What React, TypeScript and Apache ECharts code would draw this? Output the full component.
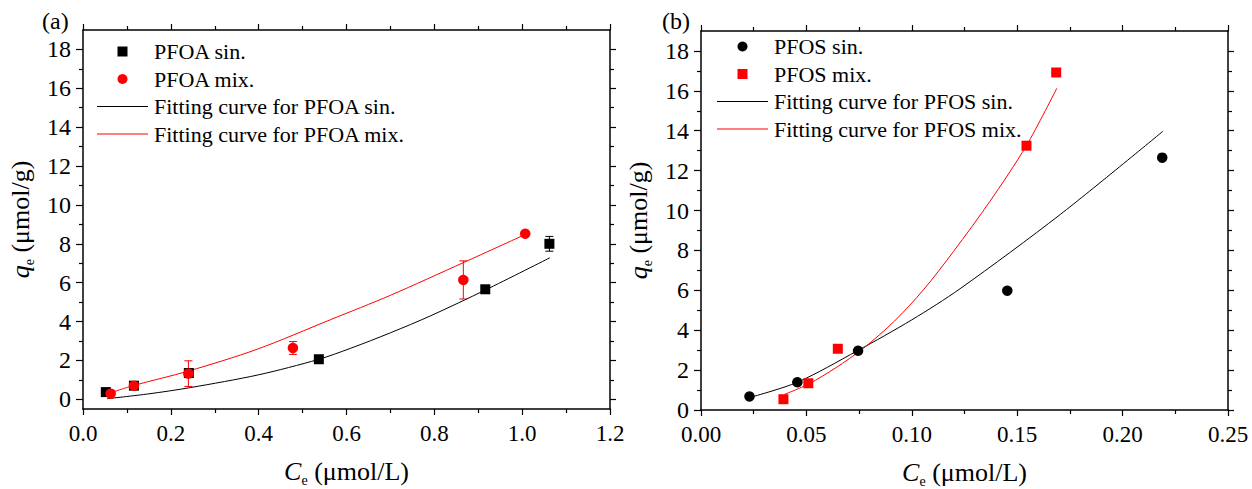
import React, { useEffect, useRef } from "react";
import * as echarts from "echarts";

// ---------- Panel (a): PFOA ----------
const pfoaSinX = [0.052, 0.116, 0.241, 0.537, 0.916, 1.062];
const pfoaSinY = [0.37, 0.7, 1.35, 2.06, 5.66, 8.0];
const pfoaSinErr = [0, 0, 0, 0, 0, 0.38];

const pfoaMixX = [0.063, 0.116, 0.24, 0.478, 0.866, 1.007];
const pfoaMixY = [0.29, 0.7, 1.32, 2.64, 6.14, 8.52];
const pfoaMixErr = [0, 0, 0.66, 0.33, 0.98, 0];

const pfoaSinFitX = [0.055, 0.15, 0.244, 0.4, 0.536, 0.609, 0.7, 0.792, 0.916, 1.063];
const pfoaSinFitY = [0.03, 0.28, 0.6, 1.26, 2.05, 2.62, 3.42, 4.3, 5.62, 7.28];

const pfoaMixFitX = [0.062, 0.117, 0.24, 0.396, 0.564, 0.7, 0.868, 1.009];
const pfoaMixFitY = [0.33, 0.72, 1.45, 2.57, 4.1, 5.35, 7.05, 8.5];

// ---------- Panel (b): PFOS ----------
const pfosSinX = [0.023, 0.0457, 0.0745, 0.1453, 0.2188];
const pfosSinY = [0.68, 1.39, 2.97, 5.98, 12.65];

const pfosMixX = [0.0391, 0.0509, 0.0649, 0.1544, 0.1685];
const pfosMixY = [0.54, 1.34, 3.07, 13.25, 16.92];

const pfosSinFitX = [0.0229, 0.0457, 0.0742, 0.1, 0.1229, 0.1704, 0.2192];
const pfosSinFitY = [0.62, 1.39, 2.97, 4.52, 6.08, 9.8, 13.98];

const pfosMixFitX = [0.0395, 0.051, 0.064, 0.077, 0.0917, 0.1055, 0.1198, 0.137, 0.1543, 0.1688];
const pfosMixFitY = [0.78, 1.3, 2.12, 3.09, 4.45, 6.02, 7.95, 10.45, 13.24, 16.13];

// ---------- Axis ticks ----------
const yMajorTicks = [0, 2, 4, 6, 8, 10, 12, 14, 16, 18];
const yMinorTicks = [1, 3, 5, 7, 9, 11, 13, 15, 17];

const leftNames = ["PFOA sin.", "PFOA mix.", "Fitting curve for PFOA sin.", "Fitting curve for PFOA mix."];
const rightNames = ["PFOS sin.", "PFOS mix.", "Fitting curve for PFOS sin.", "Fitting curve for PFOS mix."];

const FONT = "Liberation Serif";
const BLACK = "#000000";
const RED = "#ff0000";

const zip = (xs: number[], ys: number[]) => xs.map((x, i) => [x, ys[i]]);
const zip3 = (xs: number[], ys: number[], es: number[]) =>
  xs.map((x, i) => [x, ys[i], es[i]]).filter((d) => d[2] > 0);

const titleRich = {
  i: { fontStyle: "italic", fontSize: 26, fontFamily: FONT, color: BLACK, lineHeight: 32, verticalAlign: "middle" },
  s: { fontSize: 14, fontFamily: FONT, color: BLACK, lineHeight: 14, verticalAlign: "bottom" },
  n: { fontSize: 26, fontFamily: FONT, color: BLACK, lineHeight: 32, verticalAlign: "middle" },
};

function errorBarSeries(data: number[][], xi: number, yi: number, color: string) {
  return {
    type: "custom",
    xAxisIndex: xi,
    yAxisIndex: yi,
    coordinateSystem: "cartesian2d",
    encode: { x: 0, y: 1 },
    data,
    z: 3,
    renderItem: (params: any, api: any) => {
      const x = api.value(0);
      const y = api.value(1);
      const e = api.value(2);
      const t = api.coord([x, y + e]);
      const b = api.coord([x, y - e]);
      const hw = 4;
      const style = { stroke: color, lineWidth: 1 };
      return {
        type: "group",
        children: [
          { type: "line", shape: { x1: t[0], y1: t[1], x2: b[0], y2: b[1] }, style },
          { type: "line", shape: { x1: t[0] - hw, y1: t[1], x2: t[0] + hw, y2: t[1] }, style },
          { type: "line", shape: { x1: b[0] - hw, y1: b[1], x2: b[0] + hw, y2: b[1] }, style },
        ],
      };
    },
  };
}

function xAxes(gridIndex: number, max: number, interval: number, digits: number) {
  const common = {
    type: "value",
    gridIndex,
    min: 0,
    max,
    interval,
    splitLine: { show: false },
    axisLine: { show: true, onZero: false, lineStyle: { color: BLACK, width: 1.5 } },
    axisTick: { show: true, length: 6, lineStyle: { color: BLACK, width: 1.2 } },
    minorTick: { show: true, splitNumber: 2, length: 4, lineStyle: { color: BLACK, width: 1.2 } },
  };
  return [
    {
      ...common,
      position: "bottom",
      axisLabel: {
        show: true,
        fontSize: 23,
        fontFamily: FONT,
        color: BLACK,
        margin: 13,
        formatter: (v: number) => v.toFixed(digits),
      },
      name: "{i|C}{s|e}{n| (μmol/L)}",
      nameLocation: "middle",
      nameGap: 46,
      nameTextStyle: { rich: titleRich },
    },
    { ...common, position: "top", axisLabel: { show: false } },
  ];
}

function yAxes(gridIndex: number, min: number) {
  const base = {
    type: "value",
    gridIndex,
    min,
    max: 19,
    splitLine: { show: false },
  };
  const line = { show: true, onZero: false, lineStyle: { color: BLACK, width: 1.5 } };
  const noLine = { show: false, onZero: false };
  return [
    {
      ...base,
      position: "left",
      axisLine: line,
      axisTick: { show: true, length: 7, customValues: yMajorTicks, lineStyle: { color: BLACK, width: 1.2 } },
      axisLabel: {
        show: true,
        customValues: yMajorTicks,
        fontSize: 24,
        fontFamily: FONT,
        color: BLACK,
        margin: 12,
      },
      name: "{i|q}{s|e}{n| (μmol/g)}",
      nameLocation: "middle",
      nameGap: 47,
      nameTextStyle: { rich: titleRich },
    },
    {
      ...base,
      position: "left",
      axisLine: noLine,
      axisLabel: { show: false },
      axisTick: { show: true, length: 4, customValues: yMinorTicks, lineStyle: { color: BLACK, width: 1.2 } },
    },
    {
      ...base,
      position: "right",
      axisLine: line,
      axisLabel: { show: false },
      axisTick: { show: true, length: 6, customValues: yMajorTicks, lineStyle: { color: BLACK, width: 1.2 } },
    },
    {
      ...base,
      position: "right",
      axisLine: noLine,
      axisLabel: { show: false },
      axisTick: { show: true, length: 4, customValues: yMinorTicks, lineStyle: { color: BLACK, width: 1.2 } },
    },
  ];
}

const squareIcon = "path://M0,0h10v10h-10z";
const lineIcon = "path://M0,0H51V1H0Z";

function legendFor(names: string[], left: number, top: number, firstIcon: string, secondIcon: string) {
  return {
    orient: "vertical",
    left,
    top,
    itemWidth: 51,
    itemHeight: 10,
    itemGap: 5.5,
    padding: 0,
    symbolKeepAspect: true,
    textStyle: { fontSize: 22, fontFamily: FONT, color: BLACK, padding: [0, 0, 0, 1] },
    data: [
      { name: names[0], icon: firstIcon },
      { name: names[1], icon: secondIcon },
      { name: names[2], icon: lineIcon },
      { name: names[3], icon: lineIcon },
    ],
  };
}

export default function App() {
  const ref = useRef<HTMLDivElement>(null);

  useEffect(() => {
    if (!ref.current) return;
    const chart = echarts.init(ref.current, null, { renderer: "svg" });
    const option: any = {
      animation: false,
      backgroundColor: "#ffffff",
      textStyle: { fontFamily: FONT, color: BLACK },
      grid: [
        { left: 83, top: 30, width: 527, height: 379, outerBoundsMode: "none", containLabel: false },
        { left: 701, top: 31, width: 527, height: 379, outerBoundsMode: "none", containLabel: false },
      ],
      xAxis: [...xAxes(0, 1.2, 0.2, 1), ...xAxes(1, 0.25, 0.05, 2)],
      yAxis: [...yAxes(0, -0.5), ...yAxes(1, 0)],
      legend: [
        legendFor(leftNames, 97, 40.5, squareIcon, "circle"),
        legendFor(rightNames, 717, 35.5, "circle", squareIcon),
      ],
      graphic: [
        { type: "text", left: 42, top: 9, style: { text: "(a)", font: `24px "${FONT}"`, fill: BLACK } },
        { type: "text", left: 662, top: 9, style: { text: "(b)", font: `24px "${FONT}"`, fill: BLACK } },
      ],
      series: [
        // Panel (a)
        {
          name: leftNames[2],
          type: "line",
          xAxisIndex: 0,
          yAxisIndex: 0,
          data: zip(pfoaSinFitX, pfoaSinFitY),
          smooth: 0.3,
          symbol: "none",
          lineStyle: { color: BLACK, width: 1 },
          itemStyle: { color: BLACK },
          z: 2,
        },
        {
          name: leftNames[3],
          type: "line",
          xAxisIndex: 0,
          yAxisIndex: 0,
          data: zip(pfoaMixFitX, pfoaMixFitY),
          smooth: 0.3,
          symbol: "none",
          lineStyle: { color: RED, width: 1 },
          itemStyle: { color: RED },
          z: 2,
        },
        errorBarSeries(zip3(pfoaSinX, pfoaSinY, pfoaSinErr), 0, 0, BLACK),
        {
          name: leftNames[0],
          type: "scatter",
          xAxisIndex: 0,
          yAxisIndex: 0,
          data: zip(pfoaSinX, pfoaSinY),
          symbol: "rect",
          symbolSize: 10,
          itemStyle: { color: BLACK, opacity: 1 },
          z: 4,
        },
        errorBarSeries(zip3(pfoaMixX, pfoaMixY, pfoaMixErr), 0, 0, RED),
        {
          name: leftNames[1],
          type: "scatter",
          xAxisIndex: 0,
          yAxisIndex: 0,
          data: zip(pfoaMixX, pfoaMixY),
          symbol: "circle",
          symbolSize: 10.5,
          itemStyle: { color: RED, opacity: 1 },
          z: 5,
        },
        // Panel (b)
        {
          name: rightNames[2],
          type: "line",
          xAxisIndex: 2,
          yAxisIndex: 4,
          data: zip(pfosSinFitX, pfosSinFitY),
          smooth: 0.3,
          symbol: "none",
          lineStyle: { color: BLACK, width: 1 },
          itemStyle: { color: BLACK },
          z: 2,
        },
        {
          name: rightNames[3],
          type: "line",
          xAxisIndex: 2,
          yAxisIndex: 4,
          data: zip(pfosMixFitX, pfosMixFitY),
          smooth: 0.3,
          symbol: "none",
          lineStyle: { color: RED, width: 1 },
          itemStyle: { color: RED },
          z: 2,
        },
        {
          name: rightNames[0],
          type: "scatter",
          xAxisIndex: 2,
          yAxisIndex: 4,
          data: zip(pfosSinX, pfosSinY),
          symbol: "circle",
          symbolSize: 10.5,
          itemStyle: { color: BLACK, opacity: 1 },
          z: 4,
        },
        {
          name: rightNames[1],
          type: "scatter",
          xAxisIndex: 2,
          yAxisIndex: 4,
          data: zip(pfosMixX, pfosMixY),
          symbol: "rect",
          symbolSize: 10,
          itemStyle: { color: RED, opacity: 1 },
          z: 5,
        },
      ],
    };
    chart.setOption(option);
    return () => {
      chart.dispose();
    };
  }, []);

  return (
    <div
      ref={ref}
      style={{ position: "absolute", left: 0, top: 0, width: 1252, height: 489, background: "#fff" }}
    />
  );
}
